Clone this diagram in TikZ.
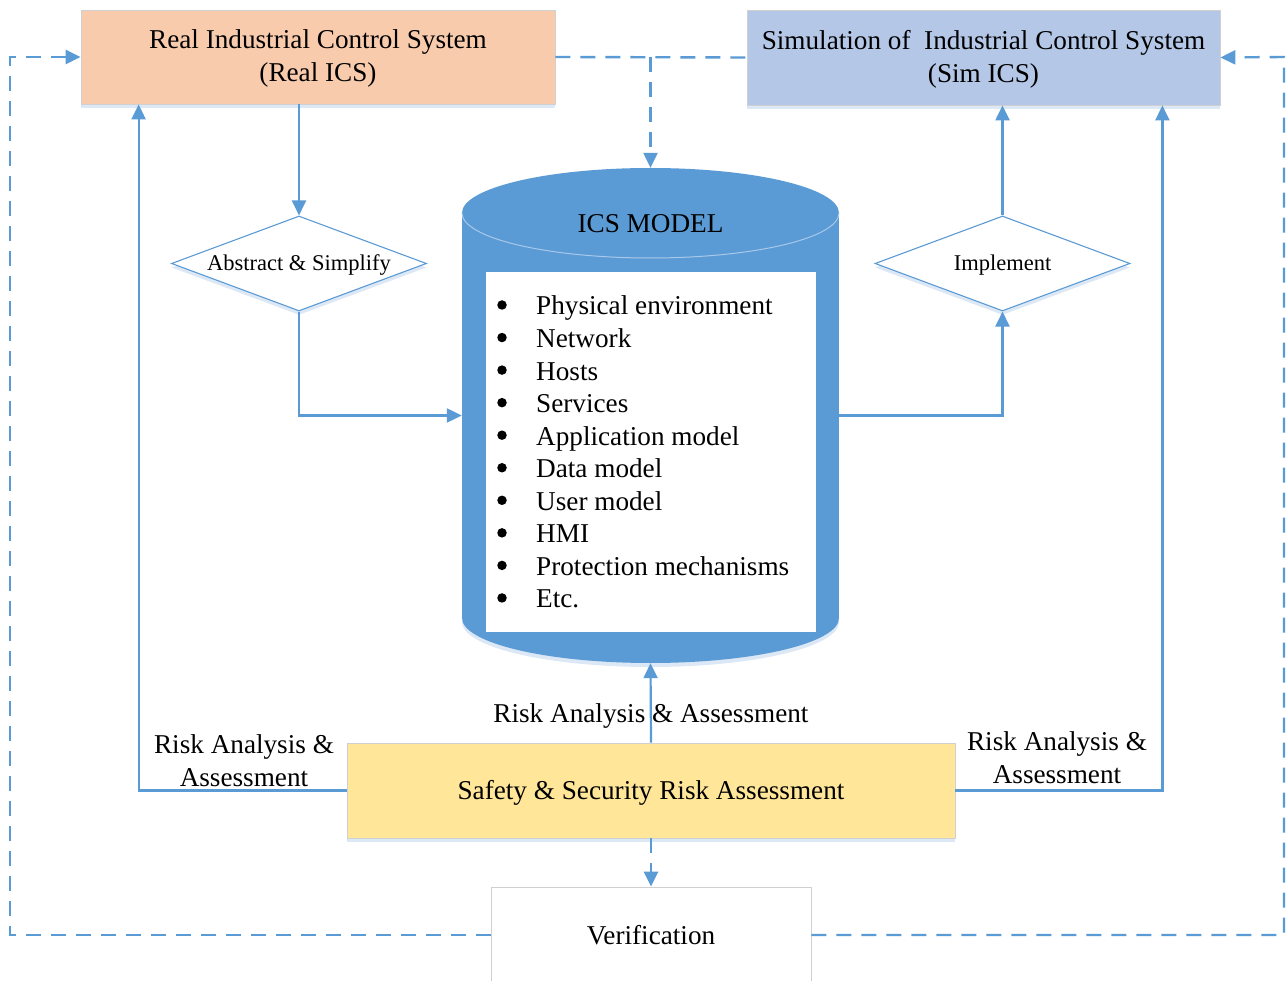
\documentclass[tikz,border=0pt]{standalone}
\usepackage{fontspec}
\setmainfont{Liberation Serif}
\usetikzlibrary{arrows.meta,shapes.geometric,shadows}
\definecolor{flow}{HTML}{5B9BD5}
\definecolor{peach}{HTML}{F8CBAD}
\definecolor{lavender}{HTML}{B4C7E7}
\definecolor{sand}{HTML}{FFE699}
\definecolor{rim}{HTML}{D0D0D0}
\definecolor{halo}{HTML}{DCE8F5}
\definecolor{cylrim}{HTML}{A8C8EA}
\tikzset{
  bigtext/.style={font=\fontsize{27.2}{33}\selectfont},
  smalltext/.style={font=\fontsize{22.5}{27}\selectfont},
  panel/.style={draw=rim, line width=0.8pt, inner sep=0pt,
    drop shadow={shadow xshift=0pt, shadow yshift=-4pt, fill=halo, opacity=1}},
  decision/.style={diamond, draw=flow, line width=1.1pt, fill=white, inner sep=0pt,
    aspect=2.68, minimum width=255pt, minimum height=95pt,
    drop shadow={shadow xshift=0pt, shadow yshift=-4pt, fill=halo, opacity=1}},
  link/.style={draw=flow, line width=2.2pt},
  arrowlink/.style={link, -{Triangle[width=14pt,length=15pt]}},
  dashlink/.style={link, line width=2.4pt, dash pattern=on 15pt off 10pt},
  dasharrow/.style={dashlink, -{Triangle[width=14pt,length=15pt]}},
  caption/.style={bigtext, inner sep=0pt, align=center},
  smallcaption/.style={smalltext, inner sep=0pt, align=center},
  listitem/.style={bigtext, inner sep=0pt, anchor=base west},
  dot/.style={circle, fill=black, inner sep=0pt, minimum size=9.5pt},
}
\begin{document}
\begin{tikzpicture}[x=1pt,y=-1pt]
\clip (0,0) rectangle (1286,981);
\fill[white] (0,0) rectangle (1286,981);

% the two system boxes
\node[panel, fill=peach, minimum width=474pt, minimum height=94pt] (real) at (318,57) {};
\node[caption] (realtext) at (318,58.5) {Real Industrial Control System\\(Real ICS)};
\node[panel, fill=lavender, minimum width=473pt, minimum height=95pt] (sim) at (983.5,57.5) {};
\node[caption] (simtext) at (983.5,59.5) {Simulation of\ \ Industrial Control System\\(Sim ICS)};

% decisions
\node[decision] (abs) at (299,263.5) {};
\node[smallcaption] (abstext) at (299,265.5) {Abstract \& Simplify};
\node[decision] (impl) at (1002.5,263.5) {};
\node[smallcaption] (impltext) at (1002.5,265.5) {Implement};

% ICS model drum
\fill[halo] (650.5,622) ellipse[x radius=188.5, y radius=45];
\fill[flow] (650.5,618) ellipse[x radius=188.5, y radius=45];
\fill[flow] (462,213) rectangle (839,618);
\fill[flow] (650.5,213) ellipse[x radius=188.5, y radius=45];
\draw[cylrim, line width=1pt] (462,213) arc[start angle=180, end angle=0, x radius=188.5, y radius=45];
\node[inner sep=0pt, minimum width=377pt, minimum height=495pt] (cyl) at (650.5,415.5) {};
\node[caption] (title) at (650.5,224) {ICS MODEL};
\fill[white] (486,272) rectangle (816,632);
\foreach \t [count=\i] in {Physical environment, Network, Hosts, Services,
    Application model, Data model, User model, HMI, Protection mechanisms, Etc.}{
  \node[dot] (dot\i) at (502,{305+32.55*(\i-1)}) {};
  \node[listitem] (item\i) at (536,{315+32.55*(\i-1)}) {\t};
}

% assessment and verification
\node[panel, fill=sand, minimum width=608pt, minimum height=95pt] (safe) at (651,790.5) {};
\node[caption] (safetext) at (651,793) {Safety \& Security Risk Assessment};
\node[draw=rim, line width=0.8pt, fill=white, minimum width=320pt, minimum height=96pt,
  inner sep=0pt, bigtext] (ver) at (651,935) {Verification};

% routing points
\coordinate (realin) at ([xshift=58pt]real.south west);
\coordinate (simin) at ([xshift=-58pt]sim.south east);
\coordinate (lcorner) at (10,57);
\coordinate (rcorner) at (1284,57);

% solid flow
\draw[arrowlink] (real.south -| abs.north) -- (abs.north);
\draw[arrowlink] (abs.south) |- (cyl.west);
\draw[arrowlink] (cyl.east) -| (impl.south);
\draw[arrowlink] (impl.north) -- (impl.north |- sim.south);
\draw[arrowlink] (safe.north) -- (cyl.south);
\draw[arrowlink] (safe.west) -| (realin);
\draw[arrowlink] (safe.east) -| (simin);

% dashed flow
\draw[dashlink] (real.east) -- (sim.west);
\draw[dasharrow] (real.east -| cyl.north) -- (cyl.north);
\draw[dasharrow] (safe.south) -- (ver.north);
\draw[dasharrow] (ver.west) -| (lcorner) -- (real.west);
\draw[dasharrow] (ver.east) -| (rcorner) -- (sim.east);

% labels
\node[caption] (lblmid) at (651,716) {Risk Analysis \& Assessment};
\node[caption] (lblleft) at (244,761) {Risk Analysis \&\\Assessment};
\node[caption] (lblright) at (1057,758) {Risk Analysis \&\\Assessment};
\end{tikzpicture}
\end{document}
